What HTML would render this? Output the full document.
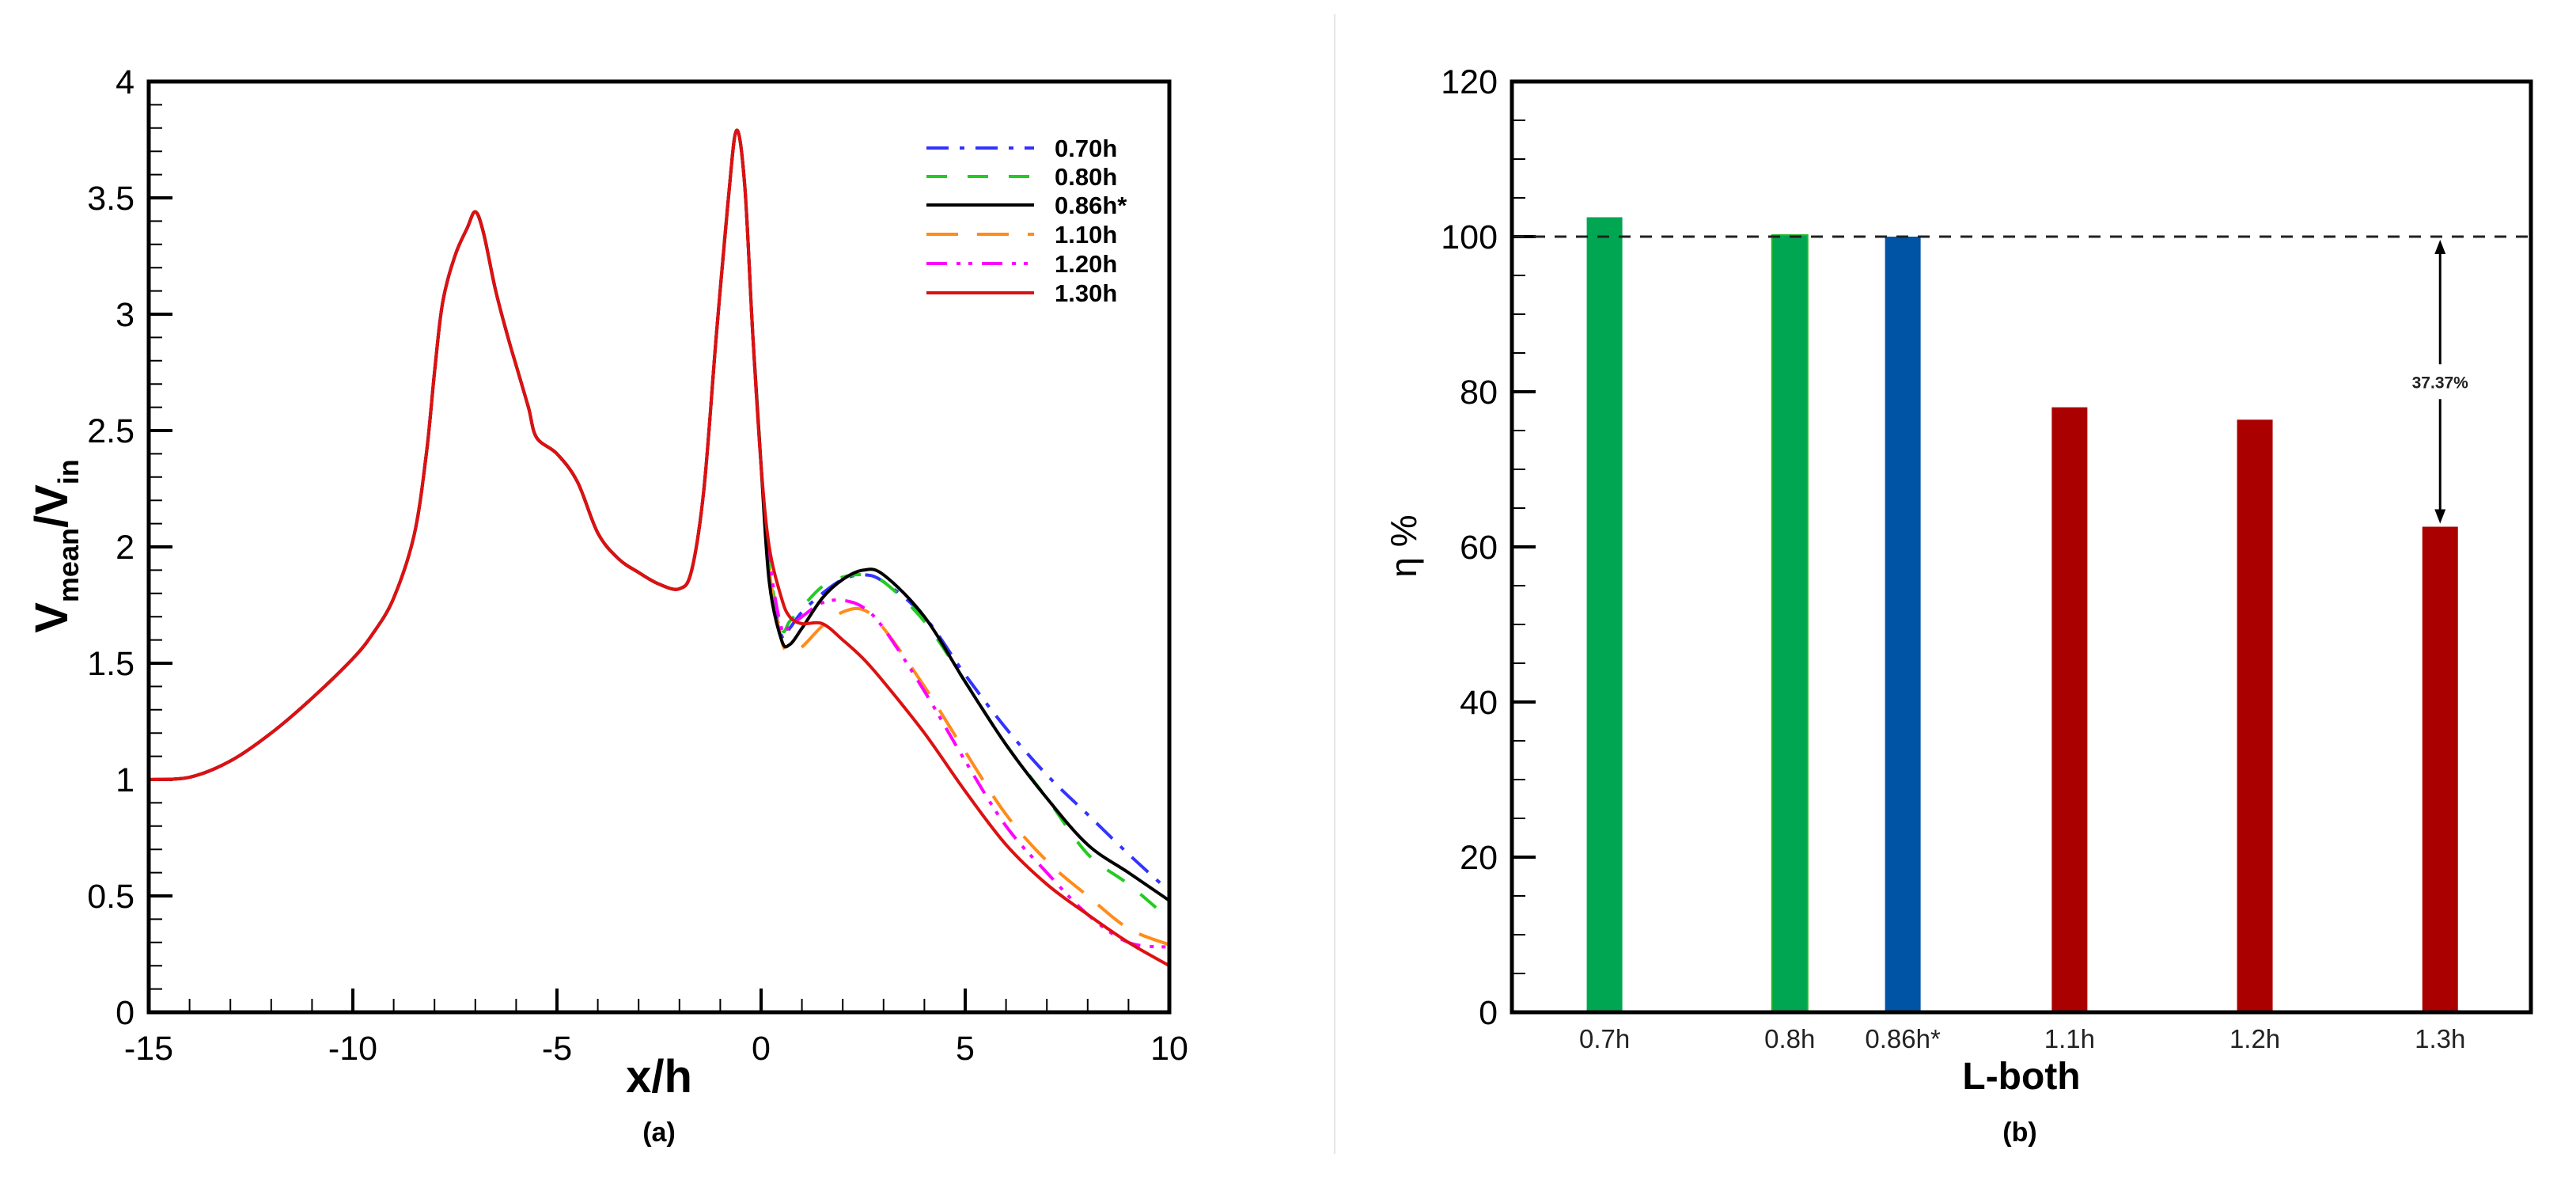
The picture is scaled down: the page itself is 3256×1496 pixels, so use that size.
<!DOCTYPE html>
<html><head><meta charset="utf-8">
<style>
html,body{margin:0;padding:0;background:#fff;}
svg{display:block;font-family:"Liberation Sans",Arial,sans-serif;}
</style></head>
<body>
<svg id="fig" width="3256" height="1496" viewBox="0 0 3256 1496" xmlns="http://www.w3.org/2000/svg">
<rect width="3256" height="1496" fill="#fff"/>
<line x1="1687" y1="18" x2="1687" y2="1458" stroke="#e6e6e6" stroke-width="2"/>
<g id="left"></g>
<g id="right"></g>
</svg>
<script>
// ---------- Panel (a) data ----------
const xUp = [-15,-14,-13,-12,-11,-10,-9.5,-9,-8.5,-8.2,-8,-7.8,-7.5,-7.2,-7,-6.8,-6.5,-6.2,-6,-5.7,-5.5,-5,-4.5,-4,-3.5,-3,-2.5,-2,-1.7,-1.4,-1.1,-0.8,-0.6,-0.4,-0.2,0];
const yUp = [1.0,1.01,1.08,1.2,1.35,1.52,1.63,1.78,2.05,2.4,2.75,3.05,3.25,3.37,3.44,3.35,3.1,2.9,2.78,2.6,2.47,2.4,2.28,2.06,1.95,1.89,1.84,1.82,1.9,2.25,2.9,3.5,3.79,3.55,2.9,2.35];
const xDown = [0.2,0.5,0.7,1,1.5,2,2.5,3,4,5,6,7,8,9,10];
const y070 = [1.9,1.62,1.65,1.72,1.8,1.86,1.88,1.85,1.7,1.45,1.22,1.02,0.85,0.68,0.52];
const y080 = [1.92,1.65,1.68,1.74,1.83,1.87,1.88,1.85,1.68,1.42,1.15,0.92,0.68,0.55,0.4];
const y086 = [1.85,1.6,1.58,1.65,1.78,1.86,1.9,1.88,1.7,1.42,1.15,0.92,0.72,0.6,0.48];
const y110 = [1.9,1.6,1.55,1.57,1.66,1.72,1.73,1.65,1.4,1.12,0.85,0.65,0.5,0.36,0.29];
const y120 = [1.95,1.65,1.66,1.7,1.76,1.77,1.74,1.65,1.38,1.08,0.8,0.6,0.42,0.3,0.28];
const y130 = [2.0,1.78,1.7,1.67,1.67,1.6,1.52,1.42,1.2,0.95,0.72,0.55,0.42,0.3,0.2];
const seriesNames = ["0.70h","0.80h","0.86h*","1.10h","1.20h","1.30h"];
const xTicksA = [-15,-10,-5,0,5,10];
const yTicksA = [0,0.5,1,1.5,2,2.5,3,3.5,4];
const yTickLabelsA = ["0","0.5","1","1.5","2","2.5","3","3.5","4"];

// ---------- Panel (b) data ----------
const barCats = ["0.7h","0.8h","0.86h*","1.1h","1.2h","1.3h"];
const barPos = [1,2,2.61,3.51,4.51,5.51];
const barVals = [102.5,100.2,100,78,76.4,62.6];
const yTicksB = [0,20,40,60,80,100,120];
const refLine = 100;
const gapLabel = "37.37%";

const NS="http://www.w3.org/2000/svg";
function mk(tag,attrs,parent){const e=document.createElementNS(NS,tag);for(const k in attrs)e.setAttribute(k,attrs[k]);parent.appendChild(e);return e;}

// ---------- Panel (a) ----------
const L=document.getElementById('left');
const ax={l:188,r:1478,t:103,b:1279};
const sx=v=>ax.l+(v-(-15))/25*(ax.r-ax.l);
const sy=v=>ax.b-(v/4)*(ax.b-ax.t);
for(let v=-15;v<=10;v+=1){
  const major=xTicksA.includes(v);
  const t=mk('line',{x1:sx(v),x2:sx(v),y1:ax.b,y2:ax.b-(major?30:17),stroke:'#000','stroke-width':major?4:2},L);
  
  
}
for(let i=0;i<=40;i++){
  const v=i/10;const major=i%5===0;
  const t=mk('line',{x1:ax.l,x2:ax.l+(major?30:17),y1:sy(v),y2:sy(v),stroke:'#000','stroke-width':major?4:2},L);
  
  
}
xTicksA.forEach(v=>{
  const t=mk('text',{x:sx(v),y:ax.b+60,'font-size':43,'text-anchor':'middle',fill:'#000'},L);
  t.textContent=String(v);
  
  
});
yTicksA.forEach((v,i)=>{
  const t=mk('text',{x:170,y:sy(v)+15,'font-size':43,'text-anchor':'end',fill:'#000'},L);
  t.textContent=yTickLabelsA[i];
  
  
});
function smoothPath(pts){
  let d='M'+pts[0][0].toFixed(1)+','+pts[0][1].toFixed(1);
  for(let i=0;i<pts.length-1;i++){
    const p0=pts[i-1]||pts[i],p1=pts[i],p2=pts[i+1],p3=pts[i+2]||p2;
    const c1x=p1[0]+(p2[0]-p0[0])/6,c1y=p1[1]+(p2[1]-p0[1])/6;
    const c2x=p2[0]-(p3[0]-p1[0])/6,c2y=p2[1]-(p3[1]-p1[1])/6;
    d+=' C'+c1x.toFixed(1)+','+c1y.toFixed(1)+' '+c2x.toFixed(1)+','+c2y.toFixed(1)+' '+p2[0].toFixed(1)+','+p2[1].toFixed(1);
  }
  return d;
}
const downs=[y070,y080,y086,y110,y120,y130];
const colors=['#3333ff','#22cc22','#000000','#ff8c1a','#ff00ff','#dd1111'];
const dashes=['28,14,6,14','26,26','none','40,24','26,12,5,10,5,12','none'];
const order=[0,1,3,4,2,5];
const lineNames=['line-0-70h','line-0-80h','line-0-86h','line-1-10h','line-1-20h','line-1-30h'];
const clip=mk('clipPath',{id:'clipA'},L);mk('rect',{x:ax.l,y:ax.t,width:ax.r-ax.l,height:ax.b-ax.t},clip);
order.forEach(i=>{
  const pts=xUp.map((x,k)=>[sx(x),sy(yUp[k])]).concat(xDown.map((x,k)=>[sx(x),sy(downs[i][k])]));
  const p=mk('path',{d:smoothPath(pts),fill:'none',stroke:colors[i],'stroke-width':4,'stroke-dasharray':dashes[i],'stroke-linejoin':'round','clip-path':'url(#clipA)'},L);
  
  
});
const frameA=mk('rect',{x:ax.l,y:ax.t,width:ax.r-ax.l,height:ax.b-ax.t,fill:'none',stroke:'#000','stroke-width':5},L);


const legY=[187,223,259,296,333,370];
seriesNames.forEach((n,i)=>{
  const g=mk('g',{},L);
  
  
  mk('line',{x1:1171,x2:1307,y1:legY[i],y2:legY[i],stroke:colors[i],'stroke-width':4,'stroke-dasharray':dashes[i]},g);
  const t=mk('text',{x:1333,y:legY[i]+11,'font-size':31,'font-weight':'bold',fill:'#000'},g);
  t.textContent=n;
});
</script>
<script>
(function(){
const L=document.getElementById('left');
L.insertAdjacentHTML('beforeend',
 '<text x="833" y="1380" font-size="58" font-weight="bold" text-anchor="middle">x/h</text>'+
 '<text x="833" y="1442" font-size="34" font-weight="bold" text-anchor="middle">(a)</text>'+
 '<text transform="translate(85,690) rotate(-90)" font-size="58" font-weight="bold" text-anchor="middle">V<tspan font-size="36" dy="14">mean</tspan><tspan dy="-14">/V</tspan><tspan font-size="36" dy="14">in</tspan></text>');
})();
(function(){
const R=document.getElementById('right');
const NS="http://www.w3.org/2000/svg";
function mk(tag,attrs,parent){const e=document.createElementNS(NS,tag);for(const k in attrs)e.setAttribute(k,attrs[k]);parent.appendChild(e);return e;}
const bx={l:1911,r:3199,t:103,b:1279};
const sx=v=>bx.l+(v-0.5)/5.5*(bx.r-bx.l);
const sy=v=>bx.b-v/120*(bx.b-bx.t);
for(let v=0;v<=120;v+=5){
  const major=v%20===0;
  const t=mk('line',{x1:bx.l,x2:bx.l+(major?30:17),y1:sy(v),y2:sy(v),stroke:'#000','stroke-width':major?4:2},R);
  
  
}
yTicksB.forEach(v=>{
  const t=mk('text',{x:1893,y:sy(v)+15,'font-size':43,'text-anchor':'end',fill:'#000'},R);
  t.textContent=String(v);
  
  
});
const barColors=['#00a651','#00a651','#0054a6','#aa0000','#aa0000','#aa0000'];
const barW=45;
barCats.forEach((c,i)=>{
  const r=mk('rect',{x:sx(barPos[i])-barW/2,y:sy(barVals[i]),width:barW,height:sy(0)-sy(barVals[i]),fill:barColors[i],stroke:i===1?'#22b822':'none','stroke-width':2},R);
  
  
  const t=mk('text',{x:sx(barPos[i]),y:bx.b+45,'font-size':33,'text-anchor':'middle',fill:'#222'},R);
  t.textContent=c;
  
  
});
const ref=mk('line',{x1:bx.l,x2:bx.r,y1:sy(refLine),y2:sy(refLine),stroke:'#222','stroke-width':3,'stroke-dasharray':'15,12'},R);


const ax_=sx(barPos[5]);
const y1=sy(refLine)+4,y2=sy(barVals[5])-4,ym=(y1+y2)/2;
mk('line',{x1:ax_,x2:ax_,y1:y1+10,y2:ym-22,stroke:'#000','stroke-width':3},R);
mk('line',{x1:ax_,x2:ax_,y1:ym+22,y2:y2-10,stroke:'#000','stroke-width':3},R);
const a1=mk('path',{d:`M${ax_},${y1} l-7,18 l14,0 z`,fill:'#000'},R);


const a2=mk('path',{d:`M${ax_},${y2} l-7,-18 l14,0 z`,fill:'#000'},R);


const gl=mk('text',{x:ax_,y:ym+8,'font-size':21,'font-weight':'bold','text-anchor':'middle',fill:'#222'},R);
gl.textContent=gapLabel;


const fr=mk('rect',{x:bx.l,y:bx.t,width:bx.r-bx.l,height:bx.b-bx.t,fill:'none',stroke:'#000','stroke-width':5},R);


R.insertAdjacentHTML('beforeend',
 '<text x="2555" y="1376" font-size="48" font-weight="bold" text-anchor="middle">L-both</text>'+
 '<text x="2553" y="1442" font-size="34" font-weight="bold" text-anchor="middle">(b)</text>'+
 '<text transform="translate(1790,690) rotate(-90)" font-size="46" text-anchor="middle">η %</text>');
})();
</script>
</body></html>
